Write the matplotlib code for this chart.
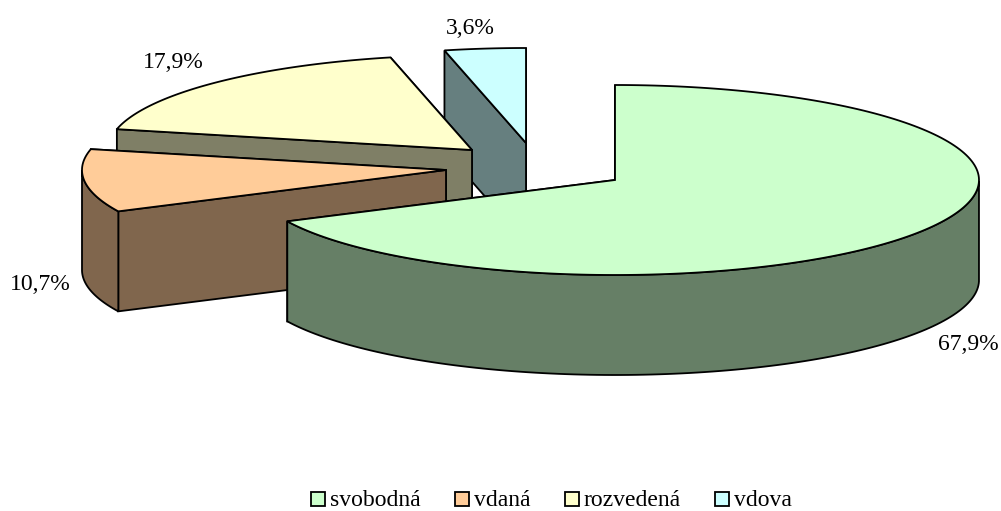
import numpy as np
import matplotlib
matplotlib.use('Agg')
from matplotlib import pyplot as plt
from matplotlib.patches import Polygon, Rectangle

names = ['svobodná', 'vdaná', 'rozvedená', 'vdova']
shares = [67.9, 10.7, 17.9, 3.6]
top_colors = ['#CCFFCC', '#FFCC99', '#FFFFCC', '#CCFFFF']
side_colors = ['#667F66', '#80664D', '#7F7F66', '#667F7F']

# layout in pixels of the 1001x511 picture
centers = [(615, 180), (446, 170), (472, 150), (526, 143)]
label_pos = [(968, 344), (40, 285), (173, 62), (470, 28)]
legend_box_x = [310.5, 454.5, 564.5, 714.5]
legend_text_x = [330, 474.5, 584, 734.5]
rx = 364
ry = 95
depth = 100

plt.rcParams['font.family'] = ['Liberation Serif', 'DejaVu Serif']

fig = plt.figure(figsize=(10.01, 5.11), dpi=100)
ax = fig.add_axes([0, 0, 1, 1])
ax.set_xlim(0, 1001)
ax.set_ylim(511, 0)
ax.axis('off')


def rim(cx, cy, a0, a1):
    # angles in degrees, math direction, y goes up on screen
    t = np.radians(np.linspace(a0, a1, 200))
    return np.column_stack([cx + rx * np.cos(t), cy - ry * np.sin(t)])


def wedge(cx, cy, a0, a1, top, side, z):
    centre = np.array([cx, cy])
    drop = np.array([0, depth])
    pts = rim(cx, cy, a0, a1)
    # cut faces, the one further back first
    ends = sorted([pts[0], pts[-1]], key=lambda p: p[1])
    for p in ends:
        face = [p, centre, centre + drop, p + drop]
        ax.add_patch(Polygon(face, fc=side, ec='black', lw=1.3, zorder=z))
    # outer wall, only the part of the rim that faces the viewer
    front = pts[np.sin(np.radians(np.linspace(a0, a1, 200))) < 0]
    if len(front) > 1:
        wall = np.vstack([front, front[::-1] + drop])
        ax.add_patch(Polygon(wall, fc=side, ec='black', lw=1.3, zorder=z))
    ax.add_patch(Polygon(np.vstack([centre, pts]), fc=top, ec='black', lw=1.3,
                         joinstyle='miter', zorder=z))


fractions = np.array(shares) / sum(shares)
starts = 90 - 360 * np.concatenate([[0], np.cumsum(fractions)[:-1]])
ends = starts - 360 * fractions

# back to front
for i in [3, 2, 1, 0]:
    wedge(centers[i][0], centers[i][1], starts[i], ends[i], top_colors[i], side_colors[i], 4 - i)

for i in range(4):
    ax.text(label_pos[i][0], label_pos[i][1], f'{shares[i]:.1f}%'.replace('.', ','),
            fontsize=17, ha='center', va='center', color='black', zorder=10)
    ax.add_patch(Rectangle((legend_box_x[i], 492.5), 14, 14, fc=top_colors[i], ec='black', lw=1.3, zorder=10))
    ax.text(legend_text_x[i], 500, names[i], fontsize=17, ha='left', va='center', color='black', zorder=10)

fig.savefig('out.png', dpi=100)
